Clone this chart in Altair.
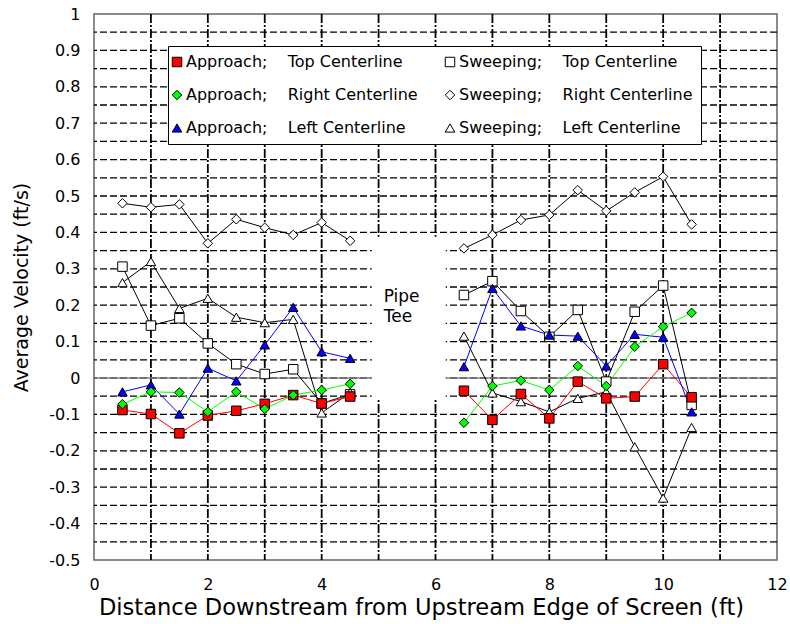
import altair as alt
import pandas as pd

# Measurement stations (ft downstream of the screen's upstream edge)
x_left = [0.5, 1.0, 1.5, 2.0, 2.5, 3.0, 3.5, 4.0, 4.5]
x_right = [6.5, 7.0, 7.5, 8.0, 8.5, 9.0, 9.5, 10.0, 10.5]

# Average velocities (ft/s), upstream and downstream of the pipe tee
approach_top_l = [-0.088, -0.099, -0.152, -0.103, -0.090, -0.071, -0.047, -0.070, -0.051]
approach_top_r = [-0.035, -0.115, -0.044, -0.111, -0.010, -0.056, -0.051, 0.038, -0.053]
approach_right_l = [-0.072, -0.038, -0.040, -0.093, -0.038, -0.085, -0.047, -0.033, -0.016]
approach_right_r = [-0.123, -0.022, -0.007, -0.033, 0.033, -0.022, 0.086, 0.141, 0.179]
approach_left_l = [-0.038, -0.019, -0.099, 0.027, -0.008, 0.091, 0.194, 0.072, 0.054]
approach_left_r = [0.031, 0.246, 0.143, 0.118, 0.115, 0.033, 0.120, 0.112, -0.093]
sweep_top_l = [0.306, 0.144, 0.164, 0.095, 0.038, 0.011, 0.024, -0.070, -0.045]
sweep_top_r = [0.228, 0.266, 0.184, 0.113, 0.187, -0.010, 0.182, 0.254, -0.074]
sweep_right_l = [0.480, 0.469, 0.477, 0.370, 0.436, 0.413, 0.393, 0.427, 0.377]
sweep_right_r = [0.356, 0.393, 0.434, 0.448, 0.516, 0.459, 0.510, 0.553, 0.422]
sweep_left_l = [0.262, 0.320, 0.191, 0.219, 0.167, 0.152, 0.161, -0.096, -0.040]
sweep_left_r = [0.115, -0.041, -0.065, -0.093, -0.056, -0.038, -0.189, -0.330, -0.136]

# Legend order (two columns, filled column by column)
series_names = [
    "Approach; Top Centerline", "Approach; Right Centerline", "Approach; Left Centerline",
    "Sweeping; Top Centerline", "Sweeping; Right Centerline", "Sweeping; Left Centerline",
]
line_colors = ["#FF0000", "#00FF00", "#0000FF", "#000000", "#000000", "#000000"]
fill_colors = ["#FF0000", "#00FF00", "#0000FF", "#FFFFFF", "#FFFFFF", "#FFFFFF"]
outline_colors = ["#000000"] * 6
shapes = ["square", "diamond", "triangle-up", "square", "diamond", "triangle-up"]
line_color_of = dict(zip(series_names, line_colors))

# Drawing order: sweeping series underneath, approach series on top
draw_order = [
    ("Sweeping; Top Centerline", sweep_top_l, sweep_top_r),
    ("Sweeping; Right Centerline", sweep_right_l, sweep_right_r),
    ("Sweeping; Left Centerline", sweep_left_l, sweep_left_r),
    ("Approach; Top Centerline", approach_top_l, approach_top_r),
    ("Approach; Left Centerline", approach_left_l, approach_left_r),
    ("Approach; Right Centerline", approach_right_l, approach_right_r),
]

rows = []
for name, left_vals, right_vals in draw_order:
    for xv, yv in zip(x_left, left_vals):
        rows.append({"series": name, "section": "upstream", "x": xv, "v": yv,
                     "line_color": line_color_of[name]})
    for xv, yv in zip(x_right, right_vals):
        rows.append({"series": name, "section": "downstream", "x": xv, "v": yv,
                     "line_color": line_color_of[name]})
df = pd.DataFrame(rows)

# Grid positions
h_grid = [round(-0.45 + 0.05 * i, 2) for i in range(29)]
v_grid = list(range(1, 12))
x_label_values = list(range(0, 13, 2))
y_label_values = [round(-0.5 + 0.1 * i, 1) for i in range(16)]

# Blank zone around the pipe tee and its label
tee_box = pd.DataFrame({"x0": [4.88], "x1": [6.18], "y0": [-0.06], "y1": [0.388]})
tee_label = pd.DataFrame({"x": [5.09], "v": [0.21]})
zero_line = pd.DataFrame({"v": [0.0]})

FONT = "DejaVu Sans"
x_scale = alt.Scale(domain=[0, 12], nice=False, zero=False)
y_scale = alt.Scale(domain=[-0.5, 1.0], nice=False, zero=False)

x_axis = alt.Axis(
    values=x_label_values,
    tickCount=20,
    labelExpr="'' + datum.value",
    labelFlush=False,
    labelOverlap=False,
    grid=False,
    domain=False,
    ticks=False,
    labelPadding=16,
    labelFont=FONT,
    labelFontSize=16,
    labelColor="#000000",
    title="Distance Downstream from Upstream Edge of Screen (ft)",
    titleFont=FONT,
    titleFontSize=22.6,
    titleFontWeight="normal",
    titleColor="#000000",
    titleBaseline="alphabetic",
    titleX=327,
    titleY=54,
)
y_axis = alt.Axis(
    values=y_label_values,
    tickCount=20,
    labelExpr="'' + round(datum.value * 10) / 10",
    labelFlush=False,
    labelOverlap=False,
    grid=False,
    domain=False,
    ticks=False,
    labelPadding=14,
    labelFont=FONT,
    labelFontSize=16,
    labelColor="#000000",
    title="Average Velocity (ft/s)",
    titleFont=FONT,
    titleFontSize=19,
    titleFontWeight="normal",
    titleColor="#000000",
    titleBaseline="alphabetic",
    titleX=-67,
)

h_rules = alt.Chart(pd.DataFrame({"v": h_grid})).mark_rule(
    color="#000000", strokeWidth=1.3, strokeDash=[7, 3]
).encode(y=alt.Y("v:Q", scale=y_scale, axis=y_axis))

v_rules = alt.Chart(pd.DataFrame({"x": v_grid})).mark_rule(
    color="#000000", strokeWidth=1.8, strokeDash=[9, 2, 2, 2]
).encode(x=alt.X("x:Q", scale=x_scale, axis=x_axis))

zero = alt.Chart(zero_line).mark_rule(color="#808080", strokeWidth=1.5).encode(
    y=alt.Y("v:Q", scale=y_scale)
)

blank = alt.Chart(tee_box).mark_rect(color="#FFFFFF").encode(
    x=alt.X("x0:Q", scale=x_scale), x2="x1:Q",
    y=alt.Y("y0:Q", scale=y_scale), y2="y1:Q",
)

tee_text = alt.Chart(tee_label).mark_text(
    text=["Pipe", "Tee"], align="left", baseline="alphabetic",
    font=FONT, fontSize=17, lineHeight=20, color="#000000",
).encode(x=alt.X("x:Q", scale=x_scale), y=alt.Y("v:Q", scale=y_scale))

# Line colours come straight from the data, so no scale or legend is involved
lines = alt.Chart(df).mark_line(strokeWidth=1).encode(
    x=alt.X("x:Q", scale=x_scale),
    y=alt.Y("v:Q", scale=y_scale),
    color=alt.Color("line_color:N", scale=None),
    detail=["series:N", "section:N"],
)

legend = alt.Legend(
    title=None,
    orient="none",
    legendX=74,
    legendY=32,
    columns=2,
    strokeColor="#000000",
    fillColor="#FFFFFF",
    padding=8,
    rowPadding=17,
    columnPadding=25,
    symbolSize=90,
    symbolOffset=-7,
    symbolStrokeWidth=1,
    labelOffset=1,
    labelFont=FONT,
    labelFontSize=16,
    labelColor="#000000",
    labelLimit=400,
    labelExpr="replace(datum.label, '; ', ';\u00a0\u00a0\u00a0\u00a0')",
)

points = alt.Chart(df).mark_point(
    filled=True, strokeWidth=1, size=90, opacity=1
).encode(
    x=alt.X("x:Q", scale=x_scale),
    y=alt.Y("v:Q", scale=y_scale),
    fill=alt.Fill("series:N", scale=alt.Scale(domain=series_names, range=fill_colors), legend=legend),
    stroke=alt.Stroke("series:N", scale=alt.Scale(domain=series_names, range=outline_colors), legend=legend),
    shape=alt.Shape("series:N", scale=alt.Scale(domain=series_names, range=shapes), legend=legend),
)

chart = alt.layer(h_rules, v_rules, zero, blank, tee_text, lines, points).properties(
    width=683,
    height=546,
    autosize=alt.AutoSizeParams(type="none"),
    padding={"left": 94, "top": 14, "right": 13, "bottom": 64},
    background="#FFFFFF",
).configure_view(
    stroke="#666666", strokeWidth=1.5
)

chart.save("out.html", embed_options={"renderer": "svg", "actions": False})
